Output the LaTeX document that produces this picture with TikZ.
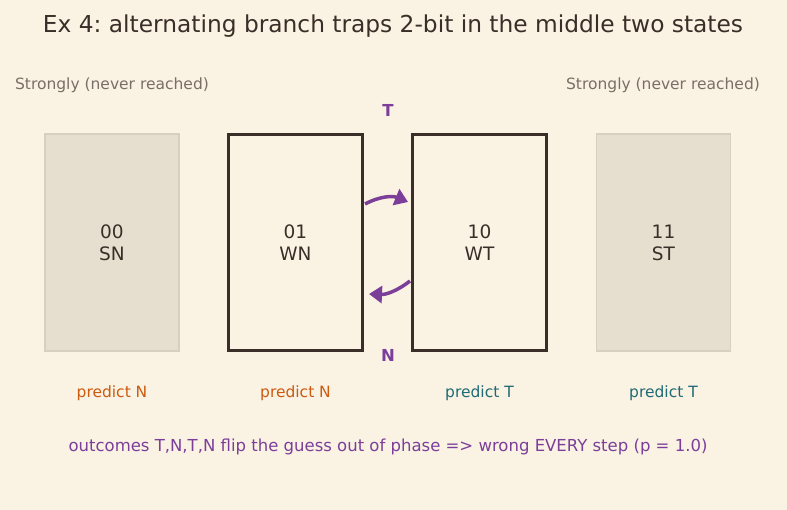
\documentclass[tikz,border=0pt]{standalone}
\usepackage{fontspec}
\setmainfont{DejaVu Sans}
\usetikzlibrary{arrows.meta}
\definecolor{bg}{HTML}{FAF2E3}
\definecolor{ink}{HTML}{3A2F28}
\definecolor{ghostfill}{HTML}{E6DFCF}
\definecolor{ghostline}{HTML}{D8CFBE}
\definecolor{muted}{HTML}{7A6F66}
\definecolor{purp}{HTML}{7B3F9A}
\definecolor{orng}{HTML}{CC5A10}
\definecolor{teal}{HTML}{1F6B75}
\frenchspacing
\begin{document}
\begin{tikzpicture}[x=1pt,y=-1pt,
  ghost/.style={draw=ghostline,fill=ghostfill,line width=1.5pt,minimum width=134pt,minimum height=217pt,inner sep=0pt,align=center,text=ink,font=\fontsize{18.5}{22}\selectfont},
  live/.style={draw=ink,line width=2.5pt,minimum width=134pt,minimum height=216pt,inner sep=0pt,align=center,text=ink,font=\fontsize{18.5}{22}\selectfont},
  lbl/.style={font=\fontsize{15.5}{18}\selectfont},
  edge/.style={draw=purp,line width=3.5pt,-{Triangle[length=13pt,width=17pt]}}]
\fill[bg] (0,0) rectangle (787,510);
\useasboundingbox (0,0) rectangle (787,510);
\node[text=ink,font=\fontsize{23.3}{28}\selectfont] (title) at (393,26) {Ex 4: alternating branch traps 2-bit in the middle two states};
\node[lbl,text=muted] (s0) at (112,85.5) {Strongly (never reached)};
\node[lbl,text=muted] (s3) at (663,85.5) {Strongly (never reached)};
\node[ghost] (b0) at (112,242.5) {00\\SN};
\node[live] (b1) at (295.5,242.5) {01\\WN};
\node[live] (b2) at (479.5,242.5) {10\\WT};
\node[ghost] (b3) at (663.5,242.5) {11\\ST};
\node[text=purp,font=\fontsize{16.5}{19}\selectfont\bfseries] (T) at (388,110.5) {T};
\node[text=purp,font=\fontsize{16.5}{19}\selectfont\bfseries] (N) at (388,355.5) {N};
\coordinate (a1) at (365,204);
\coordinate (a2) at (408,202);
\coordinate (c1) at (410,281);
\coordinate (c2) at (369,294);
\draw[edge] (a1) to[bend left=25] (a2);
\draw[edge] (c1) to[bend left=20] (c2);
\node[lbl,text=orng] (p0) at (112,393.5) {predict N};
\node[lbl,text=orng] (p1) at (295.5,393.5) {predict N};
\node[lbl,text=teal] (p2) at (479.5,393.5) {predict T};
\node[lbl,text=teal] (p3) at (663.5,393.5) {predict T};
\node[text=purp,font=\fontsize{16.5}{19}\selectfont] (foot) at (388,446.5) {outcomes T,N,T,N flip the guess out of phase => wrong EVERY step (p = 1.0)};
\end{tikzpicture}
\end{document}
